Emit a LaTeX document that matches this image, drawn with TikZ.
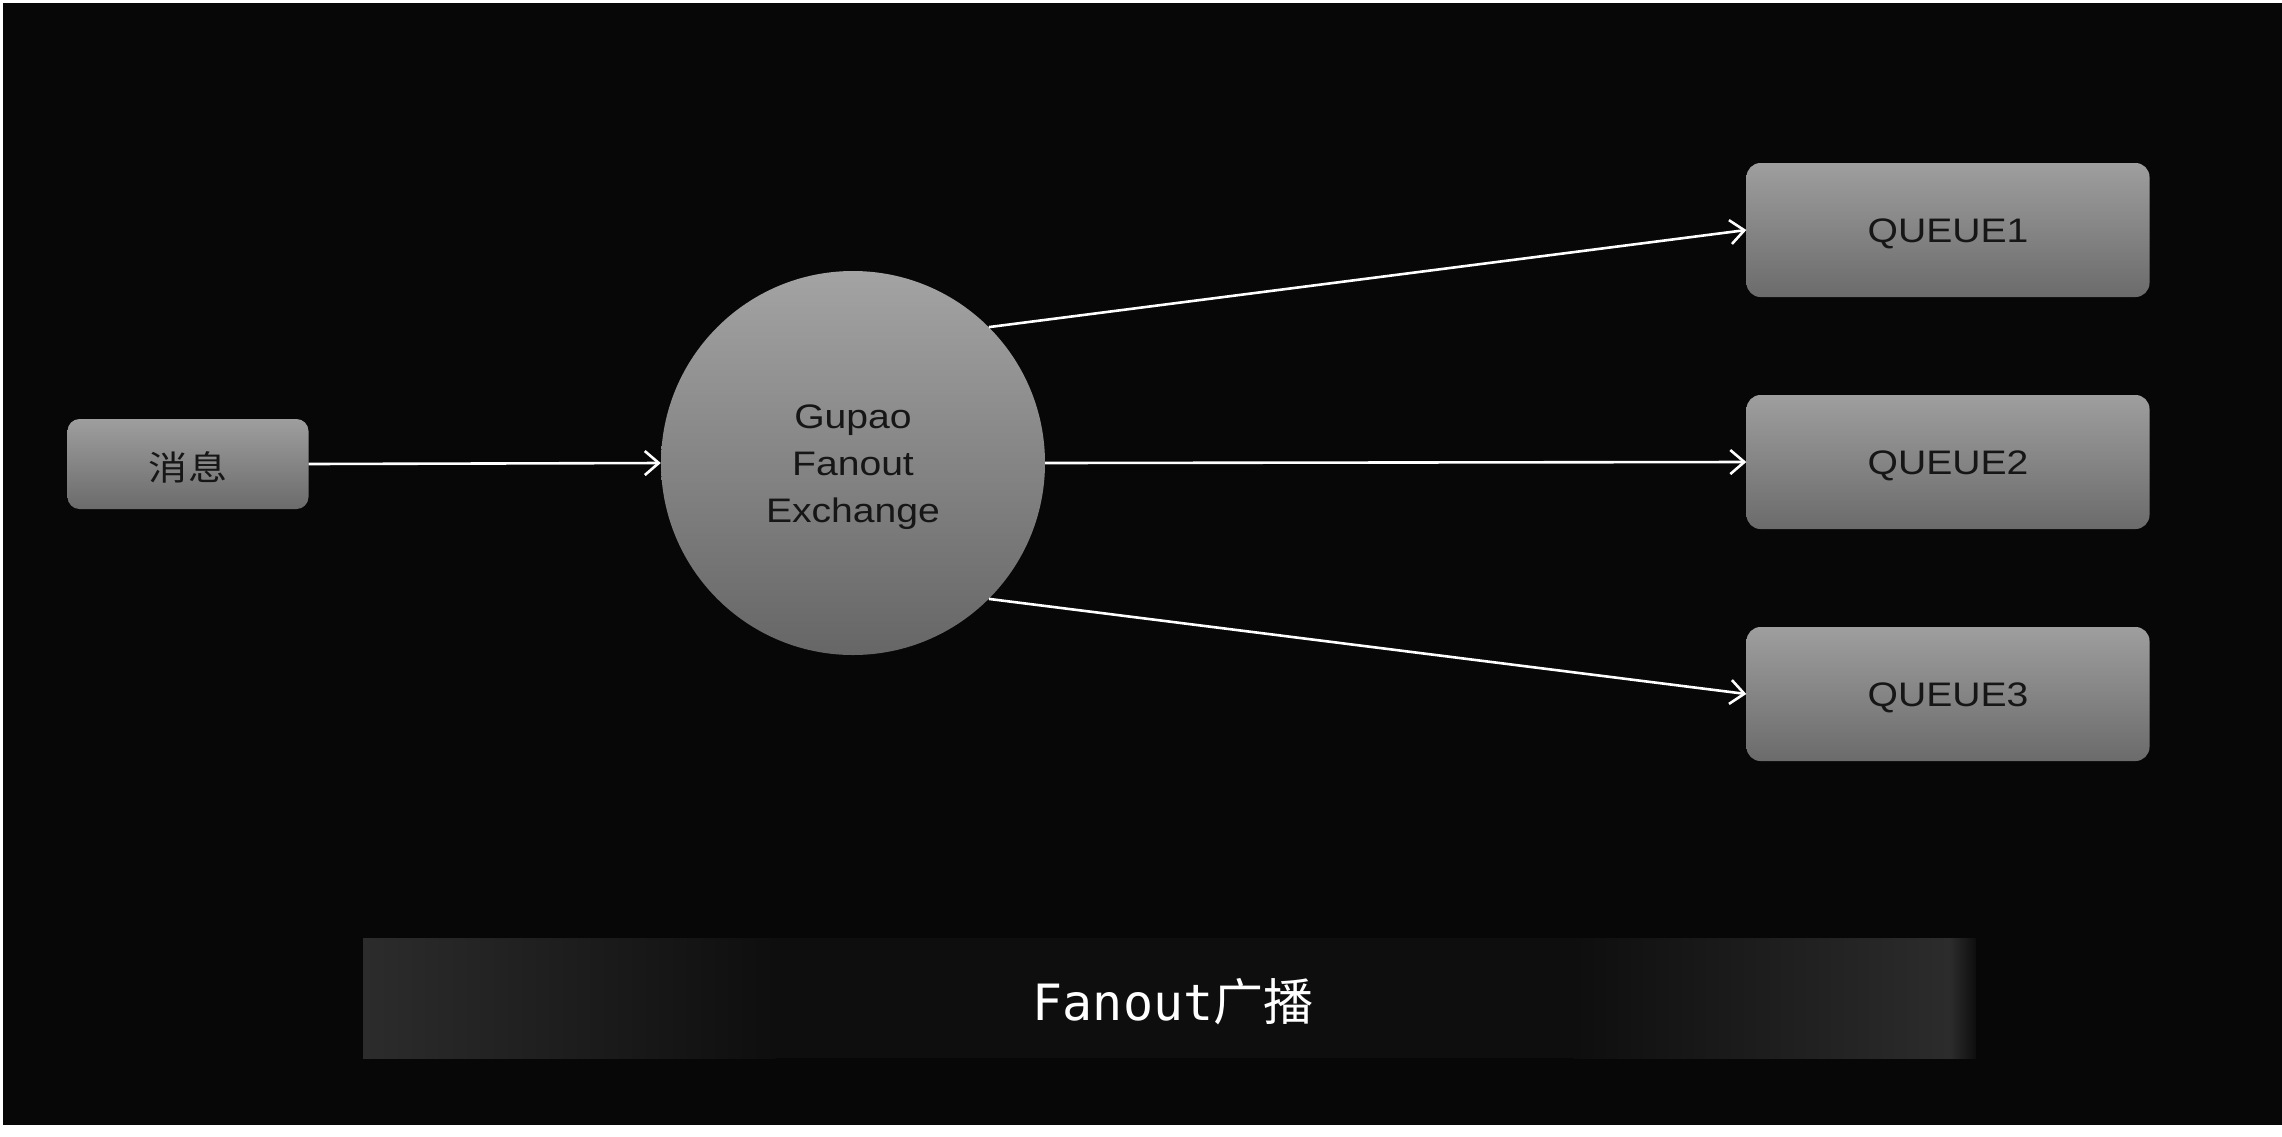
\documentclass[tikz,border=0pt]{standalone}
\usepackage{fontspec}
\setmainfont{Liberation Sans}
\newfontfamily\cjk{Noto Sans CJK SC}
\newfontfamily\monof{DejaVu Sans Mono}
\usetikzlibrary{arrows.meta}
\definecolor{bgc}{HTML}{070707}
\definecolor{bandc}{HTML}{0E0E0E}
\definecolor{patchc}{HTML}{2C2C2C}
\definecolor{txtc}{HTML}{161616}
\newcommand\hstretch[1]{\scalebox{1.15}[1]{#1}}
\tikzset{
  boxnode/.style={rectangle, rounded corners=14pt, draw=none,
    top color=black!38, bottom color=black!58,
    minimum width=403pt, minimum height=134pt},
  boxtext/.style={text=txtc, font=\fontsize{34}{40}\selectfont},
  exnode/.style={circle, draw=none, top color=black!36, bottom color=black!60,
    minimum size=384pt},
  flow/.style={draw=white, line width=2.6pt,
    -{Straight Barb[length=14pt,width=24pt,line width=2.6pt]}}
}
\begin{document}
\begin{tikzpicture}[x=1pt,y=-1pt]
\useasboundingbox (0,0) rectangle (2282,1136);
\fill[white] (0,0) rectangle (2282,1136);
\fill[bgc] (3,3) rectangle (2282,1125);
% caption band
\fill[bandc] (363,938) rectangle (1976,1058);
\shade[left color=patchc, right color=bandc] (363,938) rectangle (776,1058);
\shade[left color=bandc, right color=patchc] (1574,938) rectangle (1950,1058);
\shade[left color=patchc, right color=bandc] (1950,938) rectangle (1976,1058);
\node[text=white, font=\fontsize{50}{56}\selectfont] (title) at (1173,1002) {\monof Fanout\cjk 广播};
% nodes
\node[boxnode, minimum width=241pt, minimum height=90pt, rounded corners=12pt] (msg) at (188,464) {};
\node[boxtext] (msgt) at (188,467) {\hstretch{\cjk 消息}};
\node[exnode] (ex) at (853,463) {};
\node[boxtext, align=center, font=\fontsize{34}{47}\selectfont] (exlabel) at (853,467) {\hstretch{Gupao}\\\hstretch{Fanout}\\\hstretch{Exchange}};
\node[boxnode] (q1) at (1948,230) {};
\node[boxnode] (q2) at (1948,462) {};
\node[boxnode] (q3) at (1948,694) {};
\node[boxtext] (q1t) at (1948,234) {\hstretch{QUEUE1}};
\node[boxtext] (q2t) at (1948,466) {\hstretch{QUEUE2}};
\node[boxtext] (q3t) at (1948,698) {\hstretch{QUEUE3}};
% connectors
\draw[flow] (msg.east) -- (ex.west);
\draw[flow] (ex.45) -- (q1.west);
\draw[flow] (ex.east) -- (q2.west);
\draw[flow] (ex.-45) -- (q3.west);
\end{tikzpicture}
\end{document}
